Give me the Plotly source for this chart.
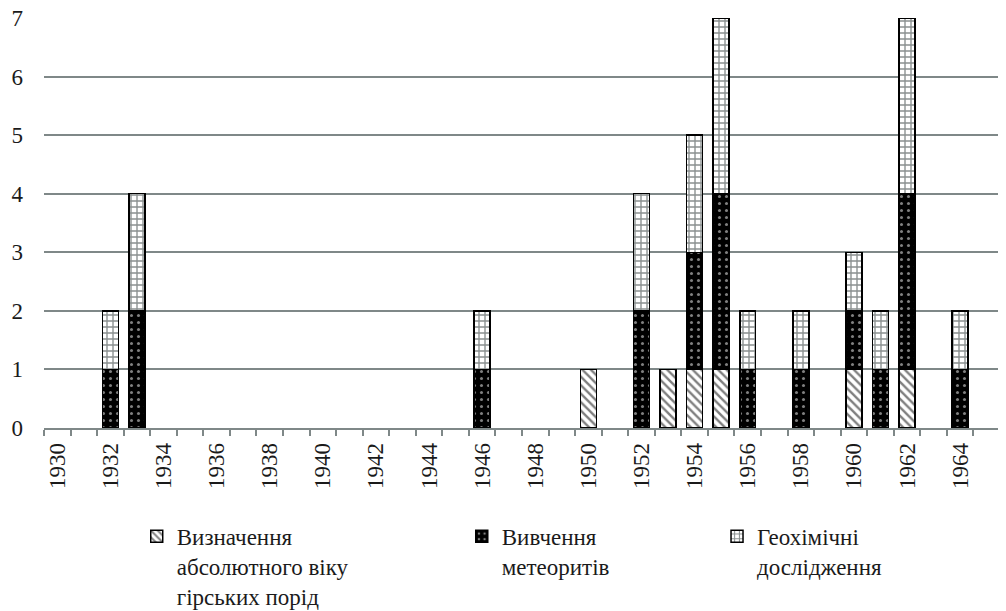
import plotly.graph_objects as go

# === Categories (years) and stacked series values
years = list(range(1930, 1966))

abs_age = {1950: 1, 1953: 1, 1954: 1, 1955: 1, 1960: 1, 1962: 1}
meteorites = {1932: 1, 1933: 2, 1946: 1, 1952: 2, 1954: 2, 1955: 3, 1956: 1,
              1958: 1, 1960: 1, 1961: 1, 1962: 3, 1964: 1}
geochem = {1932: 1, 1933: 2, 1946: 1, 1952: 2, 1954: 2, 1955: 3, 1956: 1,
           1958: 1, 1960: 1, 1961: 1, 1962: 3, 1964: 1}

series_names = [
    "Визначення<br>абсолютного віку<br>гірських порід",
    "Вивчення<br>метеоритів",
    "Геохімічні<br>дослідження",
]

tick_years = list(range(1930, 1966, 2))

FONT = "Liberation Serif"
TEXT = "#1a1a1a"
AXIS = "#7f8888"

fig = go.Figure()

patterns = [
    dict(shape="\\", fgcolor="black", bgcolor="white", size=6, solidity=0.4),
    dict(shape=".", fgcolor="white", bgcolor="black", size=7, solidity=0.15),
    dict(shape="+", fgcolor="#142020", bgcolor="white", size=6, solidity=0.4),
]

# one legend per series so each entry sits where the original has it
legend_ids = ["legend", "legend2", "legend3"]
legend_x = [0.097, 0.437, 0.704]

for name, data, pat, lg in zip(series_names, [abs_age, meteorites, geochem], patterns, legend_ids):
    fig.add_trace(go.Bar(
        x=years,
        y=[data.get(y) for y in years],
        name=name,
        width=0.6,
        legend=lg,
        marker=dict(color="white", pattern=pat, line=dict(color="black", width=1.5)),
    ))

legends = {}
for lg, x in zip(legend_ids, legend_x):
    legends[lg] = dict(
        x=x, xanchor="left", y=-0.212, yanchor="top",
        valign="top", itemwidth=30, bgcolor="rgba(0,0,0,0)",
        font=dict(family=FONT, size=23, color=TEXT),
    )

fig.update_layout(
    barmode="stack",
    width=998,
    height=603,
    margin=dict(l=36, r=6, t=10, b=183, autoexpand=False),
    plot_bgcolor="white",
    paper_bgcolor="white",
    font=dict(family=FONT, size=23, color=TEXT),
    showlegend=True,
    **legends,
    xaxis=dict(
        range=[1929.5, 1965.5],
        tickmode="array",
        tickvals=tick_years,
        ticktext=[str(y) for y in tick_years],
        tickangle=-90,
        tickfont=dict(family=FONT, size=23, color=TEXT),
        ticklabelstandoff=4,
        ticks="",
        showgrid=False,
        zeroline=False,
        showline=True,
        linecolor=AXIS,
        linewidth=1.5,
        minor=dict(ticks="outside", tick0=1929.5, dtick=1, ticklen=6,
                   tickcolor=AXIS, tickwidth=1.5, showgrid=False),
    ),
    yaxis=dict(
        range=[0, 7],
        dtick=1,
        tickfont=dict(family=FONT, size=23, color=TEXT),
        showgrid=True,
        gridcolor=AXIS,
        gridwidth=1.5,
        zeroline=False,
        showline=False,
        ticks="",
        ticklabelstandoff=20,
        ticklabeloverflow="allow",
    ),
)

fig.write_html("out.html")
